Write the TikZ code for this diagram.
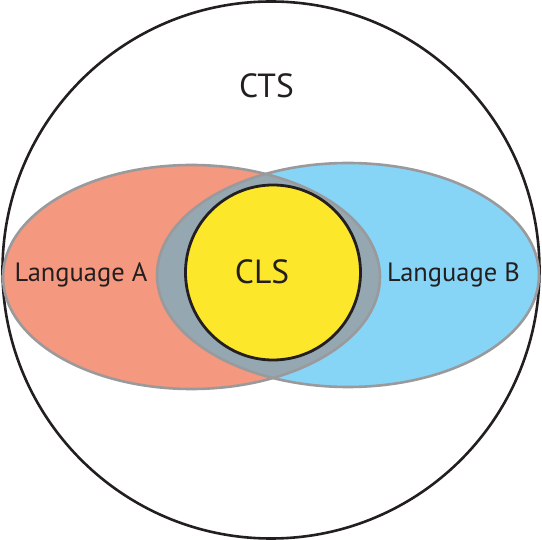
\documentclass[tikz,border=0pt]{standalone}
\usepackage{fontspec}
\setmainfont{PT Sans}
\usepackage{tikz}
\definecolor{langA}{HTML}{F4987F}
\definecolor{langB}{HTML}{87D5F6}
\definecolor{common}{HTML}{95A7B1}
\definecolor{clsyellow}{HTML}{FCE72B}
\definecolor{rim}{HTML}{9A9A9C}
\definecolor{ink}{HTML}{231F20}

\begin{document}
\begin{tikzpicture}[x=1pt,y=-1pt,
		bigtext/.style={font=\fontsize{33.5}{40}\selectfont,text=ink,inner sep=0pt},
		langtext/.style={font=\fontsize{26.5}{32}\selectfont,text=ink,inner sep=0pt}]
				\useasboundingbox (0,0) rectangle (542,540);
				% the whole translation space
				\draw[ink,line width=2.6pt] (271,270) circle (268.5);
				% the two languages
				\fill[langA] (191.5,277) ellipse (188.5 and 112);
				\fill[langB] (348,275) ellipse (191 and 112);
				% where both languages meet
				\begin{scope}
					\clip (191.5,277) ellipse (188.5 and 112);
					\fill[common] (348,275) ellipse (191 and 112);
				\end{scope}
				\draw[rim,line width=2.6pt] (191.5,277) ellipse (188.5 and 112);
				\draw[rim,line width=2.6pt] (348,275) ellipse (191 and 112);
				% the common language space
				\filldraw[fill=clsyellow,draw=ink,line width=2.8pt] (273,272.5) circle (87.5);
				\node[bigtext] (cts) at (266.5,86) {CTS};
				\node[bigtext] (cls) at (262,272) {CLS};
				\node[langtext] (langa) at (81,275) {Language A};
				\node[langtext] (langb) at (453.5,275) {Language B};
			\end{tikzpicture}
\end{document}
